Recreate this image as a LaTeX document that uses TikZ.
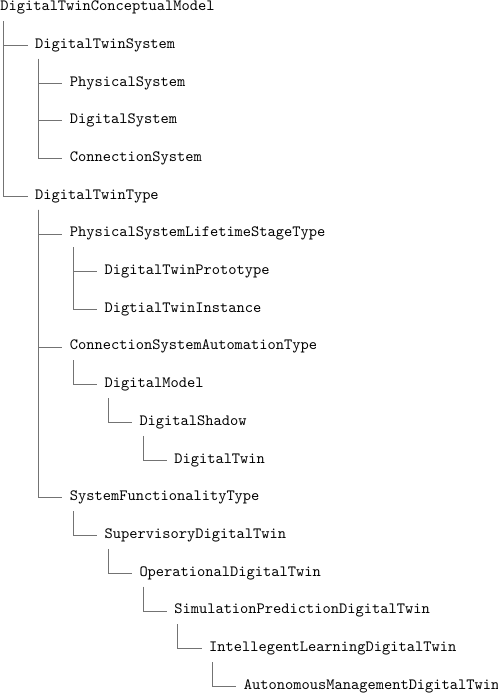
\documentclass[tikz,border=0pt]{standalone}
\usetikzlibrary{calc}
\begin{document}
\begin{tikzpicture}[x=1pt,y=1pt,
  lbl/.style={anchor=base west, inner sep=0pt, outer sep=0pt, scale=1.57, font=\fontsize{10}{12}\selectfont\ttfamily},
  conn/.style={draw=black!55, line width=0.9pt}]
\useasboundingbox (0,0) rectangle (498,-694);
\def\ind{34.8}
\def\rs{37.7}
\newcommand\tnode[4]{\node[lbl] (#1) at ({0.3+\ind*#2},{-10.6-\rs*#3}) {#4};}
\tnode{n0}{0}{0}{DigitalTwinConceptualModel}
\tnode{n1}{1}{1}{DigitalTwinSystem}
\tnode{n2}{2}{2}{PhysicalSystem}
\tnode{n3}{2}{3}{DigitalSystem}
\tnode{n4}{2}{4}{ConnectionSystem}
\tnode{n5}{1}{5}{DigitalTwinType}
\tnode{n6}{2}{6}{PhysicalSystemLifetimeStageType}
\tnode{n7}{3}{7}{DigitalTwinPrototype}
\tnode{n8}{3}{8}{DigtialTwinInstance}
\tnode{n9}{2}{9}{ConnectionSystemAutomationType}
\tnode{n10}{3}{10}{DigitalModel}
\tnode{n11}{4}{11}{DigitalShadow}
\tnode{n12}{5}{12}{DigitalTwin}
\tnode{n13}{2}{13}{SystemFunctionalityType}
\tnode{n14}{3}{14}{SupervisoryDigitalTwin}
\tnode{n15}{4}{15}{OperationalDigitalTwin}
\tnode{n16}{5}{16}{SimulationPredictionDigitalTwin}
\tnode{n17}{6}{17}{IntellegentLearningDigitalTwin}
\tnode{n18}{7}{18}{AutonomousManagementDigitalTwin}
\foreach \p/\c in {n0/n1,n0/n5,n1/n2,n1/n3,n1/n4,n5/n6,n5/n9,n5/n13,n6/n7,n6/n8,n9/n10,n10/n11,n11/n12,n13/n14,n14/n15,n15/n16,n16/n17,n17/n18}
  \draw[conn] ($(\p.base west)+(3.6,-10.5)$) |- ($(\c.base west)+(-7.5,2.8)$);
\end{tikzpicture}
\end{document}
